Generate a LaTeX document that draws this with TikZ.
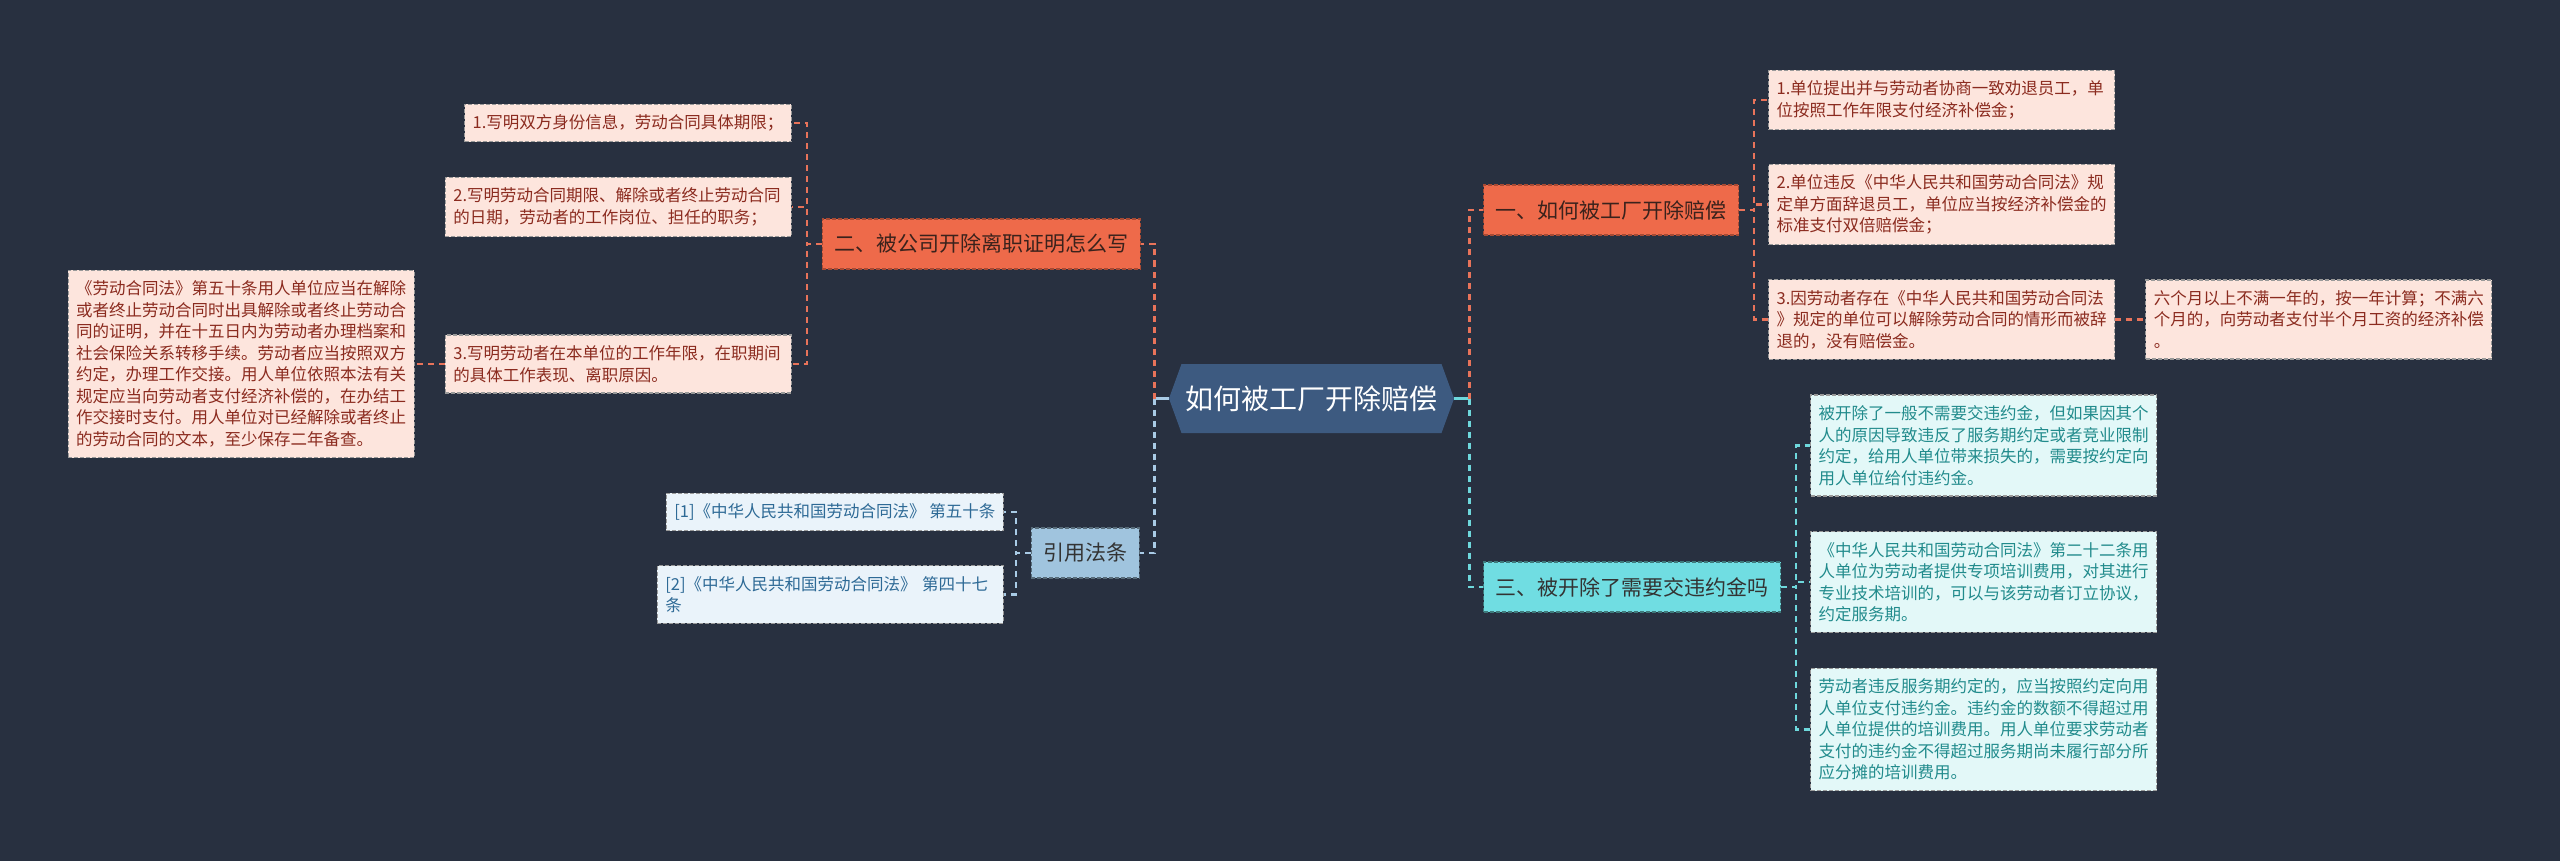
\documentclass[tikz,border=0pt]{standalone}
\usepackage{fontspec}
\setmainfont{Noto Sans CJK SC}
\usepackage{tikz}
\usetikzlibrary{positioning, shapes.symbols}
\definecolor{bgnavy}{HTML}{283040}
\definecolor{rootblue}{HTML}{3D5A80}
\definecolor{branchorange}{HTML}{EE6A4A}
\definecolor{branchcyan}{HTML}{70DDE2}
\definecolor{branchblue}{HTML}{A0C4DE}
\definecolor{leaforange}{HTML}{FDE5DD}
\definecolor{leafcyan}{HTML}{E3F8F8}
\definecolor{leafblue}{HTML}{EAF3FA}
\definecolor{textbranch}{HTML}{3A221C}
\definecolor{textorange}{HTML}{8B2B1F}
\definecolor{textcyan}{HTML}{218B8C}
\definecolor{textblue}{HTML}{2E6A96}
\definecolor{lineorange}{HTML}{E8735A}
\definecolor{linecyan}{HTML}{6ED8DC}
\definecolor{lineblue}{HTML}{A9CBE6}

\begin{document}
\begin{tikzpicture}[
    x=1pt, y=-1pt,
    root/.style={signal, signal to=west and east, signal pointer angle=140, fill=rootblue, text=white, minimum height=69pt, inner xsep=4pt, font=\fontsize{28}{32}\selectfont},
    branch/.style={rectangle, dash pattern=on 4pt off 2pt, line width=1.2pt, inner xsep=12pt, minimum height=50pt, font=\fontsize{21}{25}\selectfont},
    obranch/.style={branch, fill=branchorange, draw=branchorange!70!black, text=textbranch},
    cbranch/.style={branch, fill=branchcyan, draw=branchcyan!55!black, text=black!80},
    bbranch/.style={branch, fill=branchblue, draw=branchblue!55!black, text=black!80},
    box/.style={rectangle, dash pattern=on 4pt off 2pt, line width=1.2pt, align=left, inner xsep=8pt, inner ysep=10.5pt, font=\fontsize{16.5}{21.5}\selectfont},
    leaf/.style={box, text width=330pt},
    oleaf/.style={fill=leaforange, draw=black!40, text=textorange},
    cleaf/.style={fill=leafcyan, draw=black!40, text=textcyan},
    bleaf/.style={fill=leafblue, draw=black!40, text=textblue},
    link/.style={line width=2.5pt, dash pattern=on 6pt off 5pt},
    stub/.style={line width=2.5pt}
]
\fill[bgnavy] (0,0) rectangle (2560,861);
\useasboundingbox (0,0) rectangle (2560,861);

\node[root] (root) at (1311.5,398.5) {如何被工厂开除赔偿};
\coordinate (rootE) at ([xshift=15pt]root.east);
\coordinate (rootW) at ([xshift=-14pt]root.west);

\node[obranch, anchor=west] (how) at (1483,210) {一、如何被工厂开除赔偿};
\node[cbranch, anchor=west] (fee) at (1483,587) {三、被开除了需要交违约金吗};
\node[obranch, anchor=east] (cert) at (1141,244) {二、被公司开除离职证明怎么写};
\node[bbranch, anchor=east] (law) at (1140,553) {引用法条};

% right, top
\node[leaf, oleaf, anchor=west] (how1) at (1768,100) {1.单位提出并与劳动者协商一致劝退员工，单\\位按照工作年限支付经济补偿金；};
\node[leaf, oleaf, anchor=west] (how2) at (1768,204.5) {2.单位违反《中华人民共和国劳动合同法》规\\定单方面辞退员工，单位应当按经济补偿金的\\标准支付双倍赔偿金；};
\node[leaf, oleaf, anchor=west] (how3) at (1768,319.5) {3.因劳动者存在《中华人民共和国劳动合同法\\》规定的单位可以解除劳动合同的情形而被辞\\退的，没有赔偿金。};
\node[leaf, oleaf, right=30pt of how3] (howpay) {六个月以上不满一年的，按一年计算；不满六\\个月的，向劳动者支付半个月工资的经济补偿\\。};

% right, bottom
\node[leaf, cleaf, anchor=west] (fee1) at (1810,445.5) {被开除了一般不需要交违约金，但如果因其个\\人的原因导致违反了服务期约定或者竞业限制\\约定，给用人单位带来损失的，需要按约定向\\用人单位给付违约金。};
\node[leaf, cleaf, anchor=west] (fee2) at (1810,582) {《中华人民共和国劳动合同法》第二十二条用\\人单位为劳动者提供专项培训费用，对其进行\\专业技术培训的，可以与该劳动者订立协议，\\约定服务期。};
\node[leaf, cleaf, anchor=west] (fee3) at (1810,729.5) {劳动者违反服务期约定的，应当按照约定向用\\人单位支付违约金。违约金的数额不得超过用\\人单位提供的培训费用。用人单位要求劳动者\\支付的违约金不得超过服务期尚未履行部分所\\应分摊的培训费用。};

% left, top
\node[box, oleaf, anchor=east] (cert1) at (792,123) {1.写明双方身份信息，劳动合同具体期限；};
\node[leaf, oleaf, anchor=east] (cert2) at (792,207) {2.写明劳动合同期限、解除或者终止劳动合同\\的日期，劳动者的工作岗位、担任的职务；};
\node[leaf, oleaf, anchor=east] (cert3) at (792,364) {3.写明劳动者在本单位的工作年限，在职期间\\的具体工作表现、离职原因。};
\node[leaf, oleaf, left=30pt of cert3] (certlaw) {《劳动合同法》第五十条用人单位应当在解除\\或者终止劳动合同时出具解除或者终止劳动合\\同的证明，并在十五日内为劳动者办理档案和\\社会保险关系转移手续。劳动者应当按照双方\\约定，办理工作交接。用人单位依照本法有关\\规定应当向劳动者支付经济补偿的，在办结工\\作交接时支付。用人单位对已经解除或者终止\\的劳动合同的文本，至少保存二年备查。};

% left, bottom
\node[box, bleaf, anchor=east] (law1) at (1004,512) {[1]《中华人民共和国劳动合同法》 第五十条};
\node[leaf, bleaf, anchor=east] (law2) at (1004,594.5) {[2]《中华人民共和国劳动合同法》 第四十七\\条};

\draw[stub, draw=linecyan] (root.east) -- (rootE);
\draw[stub, draw=lineblue] (root.west) -- (rootW);
\draw[link, draw=lineorange] (rootE) |- (how.west);
\draw[link, draw=linecyan] (rootE) |- (fee.west);
\draw[link, draw=lineorange] (rootW) |- (cert.east);
\draw[link, draw=lineblue] (rootW) |- (law.east);

\foreach \leaf in {how1,how2,how3}
  \draw[link, draw=lineorange] (how.east) -- ++(15pt,0) |- (\leaf.west);
\foreach \leaf in {fee1,fee2,fee3}
  \draw[link, draw=linecyan] (fee.east) -- ++(15pt,0) |- (\leaf.west);
\foreach \leaf in {cert1,cert2,cert3}
  \draw[link, draw=lineorange] (cert.west) -- ++(-15pt,0) |- (\leaf.east);
\foreach \leaf in {law1,law2}
  \draw[link, draw=lineblue] (law.west) -- ++(-15pt,0) |- (\leaf.east);
\draw[link, draw=lineorange] (how3.east) -- (howpay.west);
\draw[link, draw=lineorange] (cert3.west) -- (certlaw.east);
\end{tikzpicture}
\end{document}
